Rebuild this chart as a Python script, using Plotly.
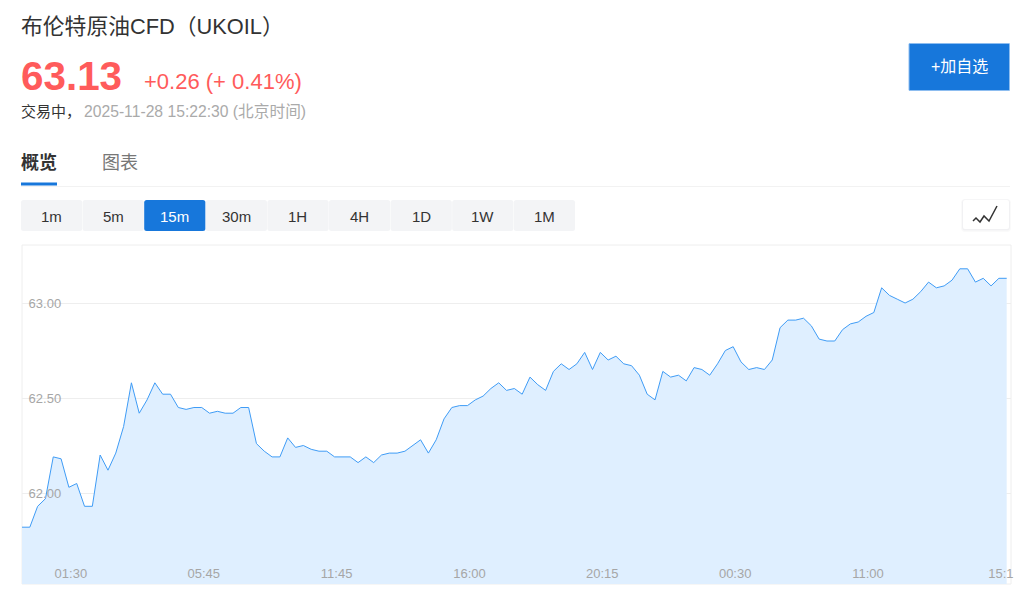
import plotly.graph_objects as go

prices = [
    61.82, 61.82, 61.93, 61.97, 62.19, 62.18, 62.03, 62.05, 61.93, 61.93,
    62.20, 62.12, 62.21, 62.35, 62.58, 62.42, 62.49, 62.58, 62.52, 62.52,
    62.45, 62.44, 62.45, 62.45, 62.42, 62.43, 62.42, 62.42, 62.45, 62.45,
    62.26, 62.22, 62.19, 62.19, 62.29, 62.24, 62.25, 62.23, 62.22, 62.22,
    62.19, 62.19, 62.19, 62.16, 62.19, 62.16, 62.20, 62.21, 62.21, 62.22,
    62.25, 62.28, 62.21, 62.28, 62.39, 62.45, 62.46, 62.46, 62.49, 62.51,
    62.55, 62.58, 62.54, 62.55, 62.52, 62.61, 62.57, 62.54, 62.64, 62.68,
    62.65, 62.68, 62.74, 62.65, 62.74, 62.70, 62.72, 62.68, 62.67, 62.62,
    62.52, 62.49, 62.64, 62.61, 62.62, 62.59, 62.66, 62.65, 62.62, 62.68,
    62.75, 62.77, 62.69, 62.65, 62.66, 62.65, 62.70, 62.87, 62.91, 62.91,
    62.92, 62.88, 62.81, 62.80, 62.80, 62.86, 62.89, 62.90, 62.93, 62.95,
    63.08, 63.04, 63.02, 63.00, 63.02, 63.06, 63.11, 63.08, 63.09, 63.12,
    63.18, 63.18, 63.11, 63.13, 63.09, 63.13, 63.13,
]
time_ticks = [6, 23, 40, 57, 74, 91, 108, 125]
time_labels = ["01:30", "05:45", "11:45", "16:00", "20:15", "00:30", "11:00", "15:1"]
price_ticks = [62.0, 62.5, 63.0]
price_labels = ["\u00a062.00", "\u00a062.50", "\u00a063.00"]
intervals = ["1m", "5m", "15m", "30m", "1H", "4H", "1D", "1W", "1M"]
active_interval = "15m"

FONT = "Liberation Sans, Noto Sans CJK SC, sans-serif"
BLUE = "#1777db"
RED = "#ff5b5b"

# plot box in page pixels, everything outside it is placed relative to this
LEFT, RIGHT, TOP, BOTTOM = 22, 1011, 245, 584
STEP = 7.815


def px(x):
    return (x - LEFT) / (RIGHT - LEFT)


def py(y):
    return (BOTTOM - y) / (BOTTOM - TOP)


def rounded(x0, y0, x1, y1, r=3):
    return (
        f"M {px(x0 + r)} {py(y0)} L {px(x1 - r)} {py(y0)} Q {px(x1)} {py(y0)} {px(x1)} {py(y0 + r)} "
        f"L {px(x1)} {py(y1 - r)} Q {px(x1)} {py(y1)} {px(x1 - r)} {py(y1)} "
        f"L {px(x0 + r)} {py(y1)} Q {px(x0)} {py(y1)} {px(x0)} {py(y1 - r)} "
        f"L {px(x0)} {py(y0 + r)} Q {px(x0)} {py(y0)} {px(x0 + r)} {py(y0)} Z"
    )


def box(x0, y0, x1, y1, fill, line=None, r=3):
    return dict(type="path", xref="paper", yref="paper", path=rounded(x0, y0, x1, y1, r),
                fillcolor=fill, line=dict(color=line or fill, width=1 if line else 0))


def label(x, y, text, size, color, anchor="left", bold=False):
    if bold:
        text = f"<b>{text}</b>"
    return dict(x=px(x), y=py(y), xref="paper", yref="paper", text=text, showarrow=False,
                xanchor=anchor, yanchor="middle", align=anchor,
                font=dict(family=FONT, size=size, color=color), borderpad=0, borderwidth=0)


fig = go.Figure()
fig.add_trace(go.Scatter(
    x=list(range(len(prices))), y=prices, mode="lines", fill="tozeroy",
    line=dict(color="#3f9cf6", width=1), fillcolor="#dfefff", hoverinfo="skip",
))

shapes = [
    dict(type="rect", xref="paper", yref="paper", x0=0, x1=1, y0=0, y1=1, layer="below",
         line=dict(color="#eeeeee", width=1)),
    dict(type="line", xref="paper", yref="paper", x0=px(21), x1=px(1010), y0=py(186.5), y1=py(186.5),
         line=dict(color="#f2f2f2", width=1)),
    dict(type="rect", xref="paper", yref="paper", x0=px(21), x1=px(57), y0=py(182.5), y1=py(185.5),
         fillcolor=BLUE, line=dict(width=0)),
    box(909, 43.5, 1009.5, 90.5, BLUE, "#8dbdf0", r=0.5),
    box(961, 199, 1011, 232, "#fafafa", r=4),
    box(962, 199.5, 1010, 230.5, "#f1f1f3", r=3),
    box(963, 200, 1009, 229, "#ffffff", r=2),
    dict(type="path", xref="paper", yref="paper", line=dict(color="#333333", width=1.5),
         path=f"M {px(973)} {py(221)} L {px(976)} {py(218)} L {px(980)} {py(222)} L {px(984)} {py(216)} "
              f"L {px(989)} {py(221)} L {px(997)} {py(206)}"),
]
annotations = [
    label(21, 26, "布伦特原油CFD（UKOIL）", 21.8, "#333333"),
    label(21, 76, "63.13", 40.4, RED, bold=True),
    label(144, 81, "+0.26 (+ 0.41%)", 22, RED),
    label(21, 111, "交易中，", 15, "#333333"),
    label(84, 112, "2025-11-28 15:22:30 (北京时间)", 15.7, "#aaaaaa"),
    label(21, 163, "概览", 18, "#333333", bold=True),
    label(102, 163, "图表", 18, "#777777"),
    label(959, 67, "+加自选", 16, "#ffffff", anchor="center"),
]
for i, name in enumerate(intervals):
    x0 = 21 + i * 61.6
    on = name == active_interval
    shapes.append(box(x0, 200, x0 + 61.2, 231, BLUE if on else "#f3f4f6", r=2.5))
    annotations.append(label(x0 + 30.4, 216, name, 15, "#ffffff" if on else "#333333", anchor="center"))

fig.update_layout(
    width=1024, height=596, showlegend=False, plot_bgcolor="#ffffff", paper_bgcolor="#ffffff",
    margin=dict(l=LEFT, r=1024 - RIGHT, t=TOP, b=596 - BOTTOM, pad=0),
    shapes=shapes, annotations=annotations,
    font=dict(family=FONT),
)
fig.update_xaxes(
    range=[0, (RIGHT - LEFT) / STEP], tickmode="array", tickvals=time_ticks, ticktext=time_labels,
    ticklabelposition="inside", ticklabelshift=2, ticklen=0, showgrid=False, zeroline=False,
    showline=False, tickfont=dict(family=FONT, size=13, color="#a6a6a6"), tickangle=0,
    ticklabeloverflow="allow", automargin=False,
)
fig.update_yaxes(
    range=[62 + (493 - BOTTOM) / 190, 62 + (493 - TOP) / 190], tickmode="array",
    tickvals=price_ticks, ticktext=price_labels, ticklabelposition="inside", ticklen=0,
    automargin=False, showgrid=True, gridcolor="#eeeeee", gridwidth=1, zeroline=False, showline=False,
    tickfont=dict(family=FONT, size=13, color="#a6a6a6"),
)

fig.write_html("out.html", config={"displayModeBar": False},
               post_script="document.body.style.margin='0';document.body.style.overflow='hidden';")
